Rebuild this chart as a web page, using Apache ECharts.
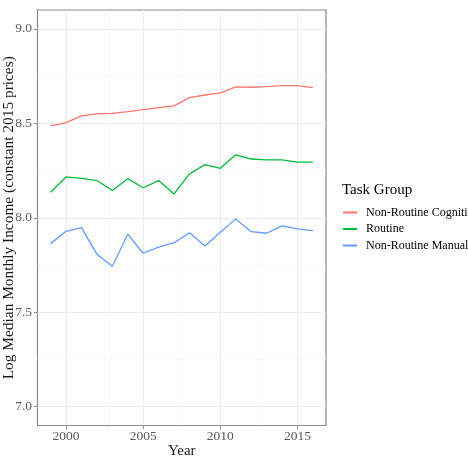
<!DOCTYPE html>
<html><head><meta charset="utf-8">
<script src="https://cdn.jsdelivr.net/npm/echarts@6/dist/echarts.min.js"></script>
<style>html,body{margin:0;padding:0;background:#fff}#c{width:468px;height:460px}</style>
</head><body><div id="c"></div>
<script>
const years = [1999,2000,2001,2002,2003,2004,2005,2006,2007,2008,2009,2010,2011,2012,2013,2014,2015,2016];
const nonRoutineCognitive = [8.486,8.504,8.539,8.550,8.553,8.562,8.573,8.583,8.592,8.636,8.650,8.661,8.693,8.691,8.694,8.700,8.700,8.689];
const routine = [8.135,8.216,8.209,8.197,8.144,8.207,8.159,8.197,8.126,8.232,8.281,8.262,8.333,8.311,8.306,8.306,8.294,8.294];
const nonRoutineManual = [7.863,7.928,7.948,7.807,7.743,7.913,7.812,7.844,7.868,7.920,7.851,7.923,7.994,7.926,7.918,7.957,7.941,7.932];
const seriesNames = ['Non-Routine Cognitive','Routine','Non-Routine Manual'];
const seriesColors = ['#F8766D','#00BA38','#619CFF'];
const xTickLabels = [2000, 2005, 2010, 2015];
const yTickLabels = [7.0, 7.5, 8.0, 8.5, 9.0];
const xMinorBreaks = [2002.5, 2007.5, 2012.5];
const yMinorBreaks = [7.25, 7.75, 8.25, 8.75];
const yLimits = [7, 9];

const FONT = "'Liberation Serif','DejaVu Serif',serif";
const xSpan = years[years.length-1] - years[0];
const xMin = years[0] - 0.05 * xSpan, xMax = years[years.length-1] + 0.05 * xSpan;
const ySpan = yLimits[1] - yLimits[0];
const yMin = yLimits[0] - 0.05 * ySpan, yMax = yLimits[1] + 0.05 * ySpan;

const chart = echarts.init(document.getElementById('c'), null, {renderer: 'canvas'});
const allSeries = [nonRoutineCognitive, routine, nonRoutineManual];
const majorGrid = {show: true, lineStyle: {color: '#EBEBEB', width: 1}};
const minorGrid = {show: true, lineStyle: {color: '#F3F3F3', width: 0.6}};
chart.setOption({
  animation: false,
  backgroundColor: '#ffffff',
  textStyle: {fontFamily: FONT},
  title: {
    text: 'Task Group', left: 337, top: 178,
    textStyle: {fontFamily: FONT, fontSize: 15, fontWeight: 'normal', color: '#000'}
  },
  legend: {
    orient: 'vertical', left: 338, top: 199.5,
    itemWidth: 14, itemHeight: 2, itemGap: 0.5, icon: 'rect',
    data: seriesNames,
    textStyle: {fontFamily: FONT, fontSize: 12, color: '#000', lineHeight: 16, padding: [0,0,0,4]}
  },
  grid: {
    left: 37.5, top: 10, right: 142, bottom: 34.5,
    show: true, borderColor: '#8a8a8a', borderWidth: 1.2, backgroundColor: '#fff',
    containLabel: false, outerBoundsMode: 'none'
  },
  xAxis: [{
    type: 'value', min: xMin, max: xMax,
    name: 'Year', nameLocation: 'middle', nameGap: 18.5, nameMoveOverlap: false,
    nameTextStyle: {fontFamily: FONT, fontSize: 15, color: '#1a1a1a'},
    axisLine: {show: false},
    axisTick: {show: true, length: 3.7, customValues: xTickLabels, lineStyle: {color: '#8a8a8a', width: 1}},
    axisLabel: {customValues: xTickLabels, margin: 4, fontFamily: FONT, fontSize: 13.5, color: '#5a5a5a', formatter: v => String(v)},
    splitLine: majorGrid
  }, {
    type: 'value', min: xMin, max: xMax, position: 'bottom',
    axisLine: {show: false}, axisLabel: {show: false},
    axisTick: {show: false, customValues: xMinorBreaks},
    splitLine: minorGrid
  }],
  yAxis: [{
    type: 'value', min: yMin, max: yMax,
    name: 'Log Median Monthly Income (constant 2015 prices)', nameLocation: 'middle', nameGap: 21, nameMoveOverlap: false,
    nameTextStyle: {fontFamily: FONT, fontSize: 15.4, color: '#1a1a1a'},
    axisLine: {show: false},
    axisTick: {show: true, length: 3.7, customValues: yTickLabels, lineStyle: {color: '#8a8a8a', width: 1}},
    axisLabel: {customValues: yTickLabels, margin: 5.5, fontFamily: FONT, fontSize: 13.5, color: '#5a5a5a', formatter: v => Number(v).toFixed(1)},
    splitLine: majorGrid
  }, {
    type: 'value', min: yMin, max: yMax, position: 'left',
    axisLine: {show: false}, axisLabel: {show: false},
    axisTick: {show: false, customValues: yMinorBreaks},
    splitLine: minorGrid
  }],
  series: allSeries.map((vals, i) => ({
    name: seriesNames[i], type: 'line', xAxisIndex: 0, yAxisIndex: 0,
    data: years.map((y, j) => [y, vals[j]]),
    showSymbol: false, symbol: 'none', smooth: false,
    lineStyle: {color: seriesColors[i], width: 1.3},
    itemStyle: {color: seriesColors[i]},
    z: 5
  }))
});
</script></body></html>
